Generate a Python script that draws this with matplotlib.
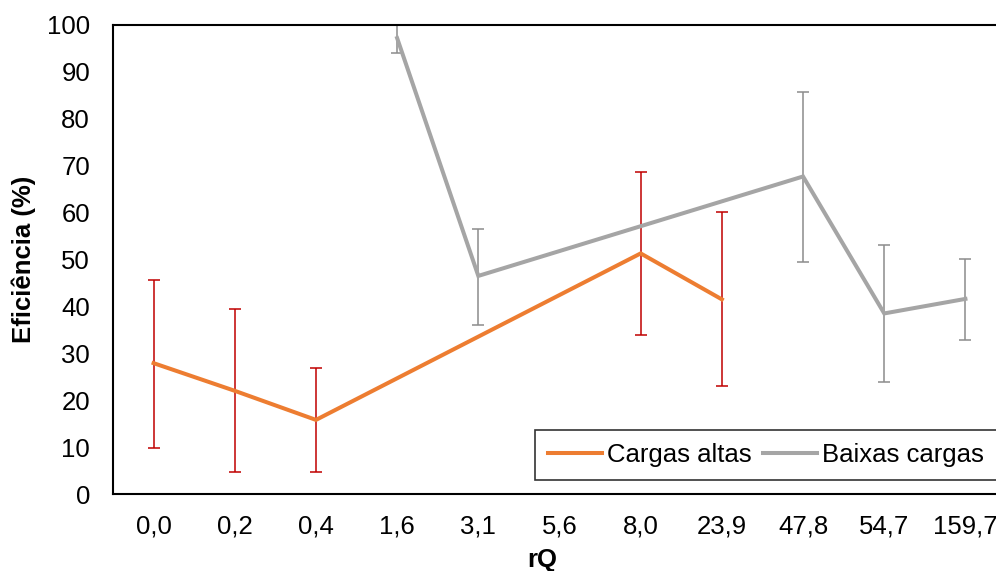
import matplotlib
matplotlib.use("Agg")
import matplotlib.pyplot as plt

plt.rcParams["font.family"] = ["Liberation Sans", "DejaVu Sans"]

categories = ["0,0", "0,2", "0,4", "1,6", "3,1", "5,6", "8,0", "23,9", "47,8", "54,7", "159,7"]

# Cargas altas (None = no data, line still joins the points)
altas = [27.9, 22.0, 15.8, None, None, None, 51.3, 41.5, None, None, None]
altas_low = [9.9, 4.7, 4.7, None, None, None, 33.9, 23.0, None, None, None]
altas_high = [45.6, 39.4, 26.9, None, None, None, 68.7, 60.1, None, None, None]

# Baixas cargas
baixas = [None, None, None, 97.2, 46.5, None, None, None, 67.7, 38.5, 41.6]
baixas_low = [None, None, None, 94.0, 36.0, None, None, None, 49.5, 23.9, 32.8]
baixas_high = [None, None, None, 102.0, 56.5, None, None, None, 85.7, 53.1, 50.1]

FS = 18.5


def _valid(vals, low, high):
    xs, ys, lo, hi = [], [], [], []
    for i, v in enumerate(vals):
        if v is None:
            continue
        xs.append(i)
        ys.append(v)
        lo.append(v - low[i])
        hi.append(high[i] - v)
    return xs, ys, [lo, hi]


fig = plt.figure(figsize=(9.96, 5.71), dpi=100)
ax = fig.add_axes([113 / 996, 77 / 571, 893 / 996, 469 / 571])

for vals, low, high, color, ecolor, label in [
    (altas, altas_low, altas_high, "#ED7D31", "#C00000", "Cargas altas"),
    (baixas, baixas_low, baixas_high, "#A5A5A5", "#8C8C8C", "Baixas cargas"),
]:
    xs, ys, err = _valid(vals, low, high)
    ax.errorbar(xs, ys, yerr=err, fmt="none", ecolor=ecolor, elinewidth=1.1,
                capsize=4.6, capthick=1.1, zorder=2)
    ax.plot(xs, ys, color=color, linewidth=2.9, label=label, zorder=3,
            solid_joinstyle="miter")

ax.set_xlim(-0.5, len(categories) - 0.5)
ax.set_ylim(0, 100)
ax.set_xticks(range(len(categories)))
ax.set_xticklabels(categories)
ax.set_yticks(range(0, 101, 10))
ax.tick_params(axis="both", length=0, labelsize=FS)
ax.tick_params(axis="x", pad=15)
ax.tick_params(axis="y", pad=16.5)
for sp in ax.spines.values():
    sp.set_linewidth(1.5)
    sp.set_color("black")

ax.set_xlabel("rQ", fontsize=FS, fontweight="bold", va="center")
ax.xaxis.set_label_coords((542 - 113) / 893, -(560 - 494) / 469)
ax.set_ylabel("Eficiência (%)", fontsize=FS, fontweight="bold", va="center")
ax.yaxis.set_label_coords((24 - 113) / 893, (494 - 259.5) / 469)

leg = ax.legend(loc="lower right", bbox_to_anchor=((997 - 113) / 893, (494 - 480) / 469),
                ncol=2, fontsize=FS, frameon=True, fancybox=False, borderaxespad=0,
                handlelength=2.1, handletextpad=0.2, columnspacing=0.45, borderpad=0.5)
leg.get_frame().set_edgecolor("black")
leg.get_frame().set_linewidth(1.2)

fig.savefig("out.png", dpi=100)
